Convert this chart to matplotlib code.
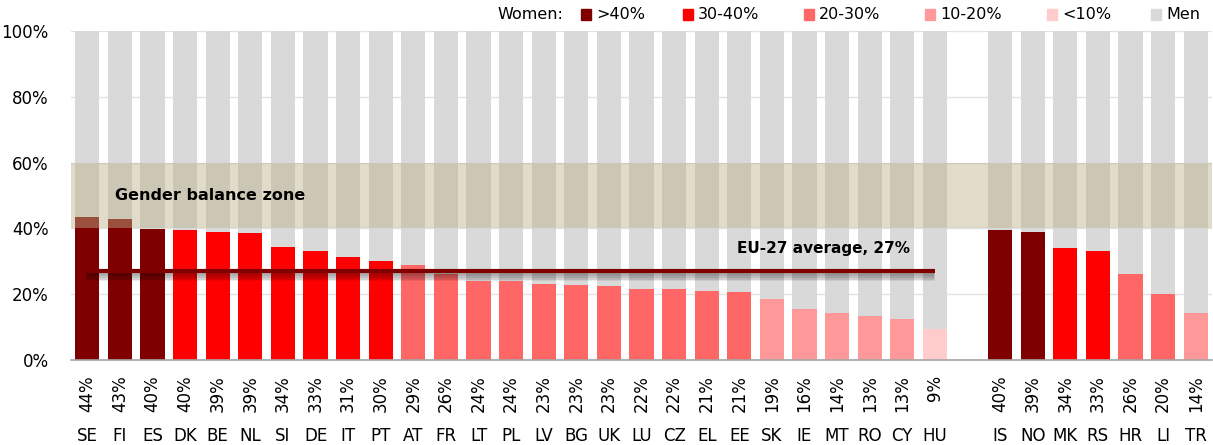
import matplotlib
matplotlib.use("Agg")
import matplotlib.pyplot as plt
import matplotlib.patheffects as pe
from matplotlib.patches import Rectangle

# ---- data ----
eu_countries = ["SE", "FI", "ES", "DK", "BE", "NL", "SI", "DE", "IT", "PT", "AT", "FR", "LT", "PL",
                "LV", "BG", "UK", "LU", "CZ", "EL", "EE", "SK", "IE", "MT", "RO", "CY", "HU"]
eu_women = [43.4, 42.8, 39.9, 39.5, 38.9, 38.6, 34.3, 33.0, 31.3, 30.0, 28.8, 26.2, 24.0, 23.9,
            23.0, 22.8, 22.5, 21.6, 21.5, 21.0, 20.7, 18.5, 15.6, 14.2, 13.3, 12.5, 9.3]
eu_labels = ["44%", "43%", "40%", "40%", "39%", "39%", "34%", "33%", "31%", "30%", "29%", "26%",
             "24%", "24%", "23%", "23%", "23%", "22%", "22%", "21%", "21%", "19%", "16%", "14%",
             "13%", "13%", "9%"]
eu_cat = [0, 0, 0, 1, 1, 1, 1, 1, 1, 1, 2, 2, 2, 2, 2, 2, 2, 2, 2, 2, 2, 3, 3, 3, 3, 3, 4]

other_countries = ["IS", "NO", "MK", "RS", "HR", "LI", "TR"]
other_women = [39.5, 38.8, 33.9, 33.0, 26.0, 20.0, 14.2]
other_labels = ["40%", "39%", "34%", "33%", "26%", "20%", "14%"]
other_cat = [0, 0, 1, 1, 2, 2, 3]

eu_average = 27.0
balance_zone = (40, 60)

legend_labels = [">40%", "30-40%", "20-30%", "10-20%", "<10%", "Men"]
cat_colors = ["#7F0000", "#FF0000", "#FF6666", "#FF9999", "#FFCCCC"]
men_color = "#D9D9D9"

# ---- figure ----
plt.rcParams['font.family'] = ['DejaVu Sans']
fig = plt.figure(figsize=(12.13, 4.45), dpi=100)
ax = fig.add_axes([71 / 1213, 1 - 360 / 445, (1212 - 71) / 1213, (360 - 31) / 445])

countries = eu_countries + other_countries
women = eu_women + other_women
labels = eu_labels + other_labels
cats = eu_cat + other_cat
xpos = list(range(len(eu_countries))) + [len(eu_countries) + 1 + i for i in range(len(other_countries))]

bw = 0.74
colors = [cat_colors[c] for c in cats]
ax.bar(xpos, women, width=bw, color=colors, zorder=2)
ax.bar(xpos, [100 - w for w in women], bottom=women, width=bw, color=men_color, zorder=2)

ax.axhspan(balance_zone[0], balance_zone[1], color=(188 / 255, 179 / 255, 136 / 255), alpha=0.45,
           zorder=3, lw=0)
ax.text(0.85, 50, "Gender balance zone", fontsize=11.5, fontweight='bold', va='center', ha='left',
        zorder=5)

shadow = [pe.SimpleLineShadow(offset=(-1.0, -1.6 - 0.5 * i), shadow_color='k', alpha=0.09,
                              linewidth=4 + 1.2 * i) for i in range(4)]
ax.plot([0, len(eu_countries) - 1], [eu_average, eu_average], color="#800000", lw=3, zorder=4,
        solid_capstyle='butt', path_effects=shadow + [pe.Normal()])
ax.text(25.25, 33.8, "EU-27 average, 27%", fontsize=11, fontweight='bold', ha='right',
        va='center', zorder=5)

ax.set_xlim(-0.5, 34.5)
ax.set_ylim(0, 100)
ax.set_yticks([0, 20, 40, 60, 80, 100])
ax.set_yticklabels([f"{v}%" for v in [0, 20, 40, 60, 80, 100]], fontsize=12)
ax.tick_params(axis='y', length=0, pad=16)
ax.set_xticks([])
ax.grid(axis='y', color='#E2E2E2', lw=1, zorder=0)
ax.set_axisbelow(True)
for s in ['left', 'right', 'top']:
    ax.spines[s].set_visible(False)
ax.spines['bottom'].set_color('#A6A6A6')
ax.spines['bottom'].set_linewidth(1.2)

for x, lab, c in zip(xpos, labels, countries):
    ax.annotate(lab, xy=(x, 0), xycoords=('data', 'axes fraction'), xytext=(0, -11),
                textcoords='offset points', rotation=90, ha='center', va='top', fontsize=12)
    ax.annotate(c, xy=(x, 0), xycoords=('data', 'axes fraction'), xytext=(0, -55),
                textcoords='offset points', ha='center', va='center', fontsize=12)

# ---- legend ----
W, H = 1213, 445
fig.text(497 / W, 1 - 14.5 / H, "Women:", fontsize=11.5, va='center', ha='left')
sq_x = [581, 683, 804, 925, 1047, 1151]
leg_colors = cat_colors + [men_color]
for sx, lab, col in zip(sq_x, legend_labels, leg_colors):
    fig.patches.append(Rectangle((sx / W, 1 - 19.5 / H), 10 / W, 10 / H, transform=fig.transFigure,
                                 color=col, zorder=5))
    fig.text((sx + 15) / W, 1 - 14.5 / H, lab, fontsize=11.5, va='center', ha='left')

fig.savefig("out.png", dpi=100)
